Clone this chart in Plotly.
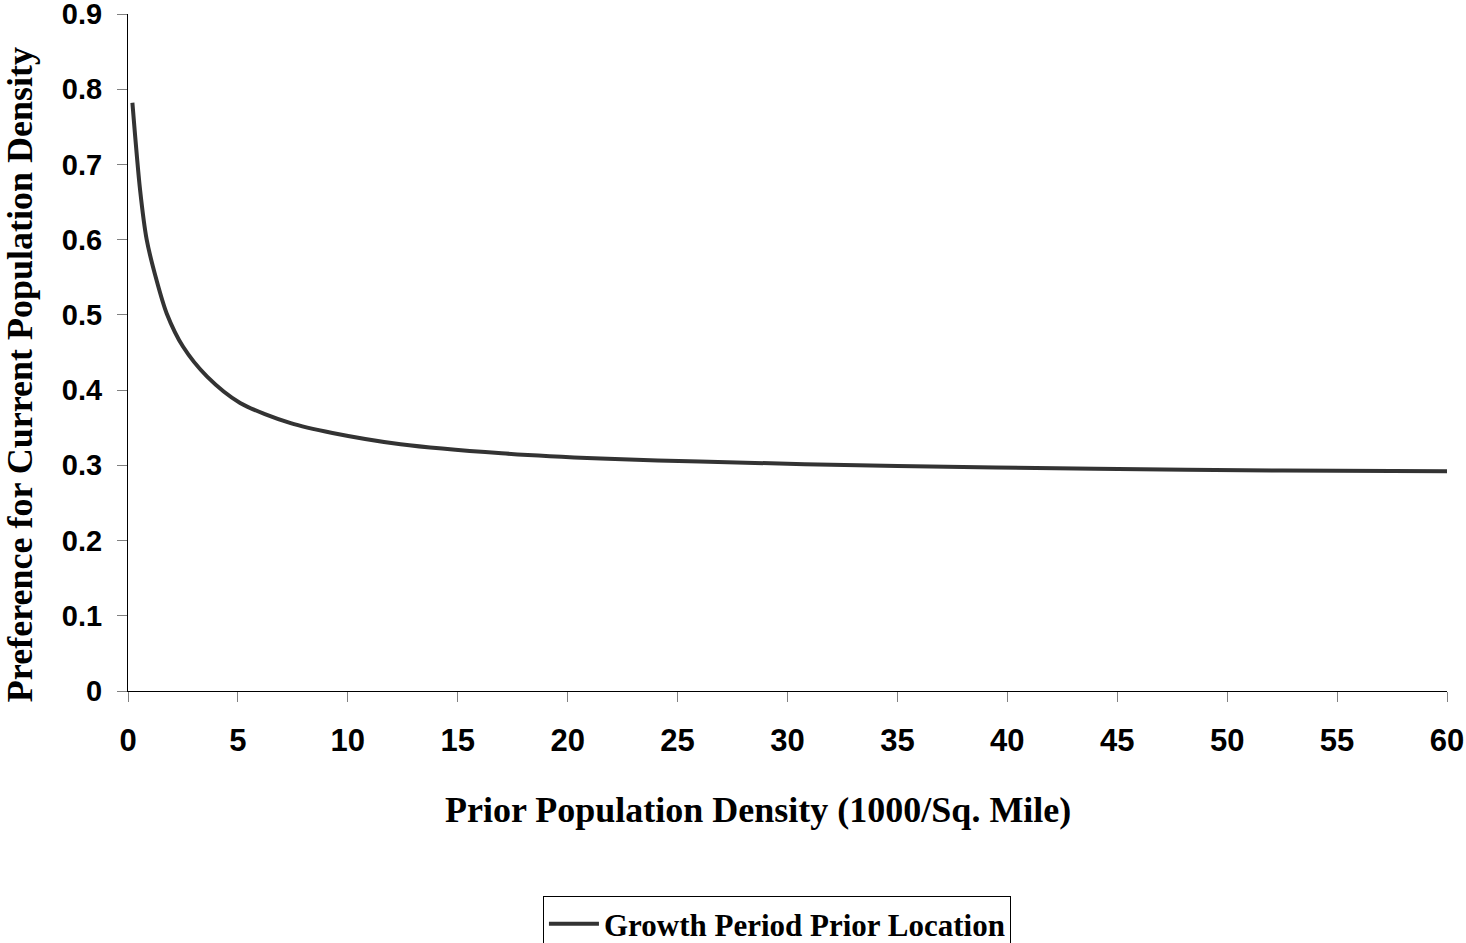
import plotly.graph_objects as go

density = [0.2, 0.55, 0.85, 1.3, 1.76, 2.5, 3.6, 5.1, 7.4, 9.3, 12.4, 17, 21.5, 26, 35, 44, 52.5, 60]
preference = [0.782, 0.666, 0.600, 0.546, 0.502, 0.458, 0.418, 0.383, 0.356, 0.343,
              0.328, 0.316, 0.309, 0.305, 0.299, 0.2955, 0.293, 0.292]
series_name = "Growth Period Prior Location"
x_ticks = [0, 5, 10, 15, 20, 25, 30, 35, 40, 45, 50, 55, 60]
y_ticks = [0, 0.1, 0.2, 0.3, 0.4, 0.5, 0.6, 0.7, 0.8, 0.9]
y_ticklabels = ["0", "0.1", "0.2", "0.3", "0.4", "0.5", "0.6", "0.7", "0.8", "0.9"]

fig = go.Figure()
fig.add_trace(go.Scatter(
    x=density, y=preference, mode="lines", name=series_name,
    line=dict(color="#333333", width=4, shape="spline", smoothing=0.8),
    showlegend=True,
))

sans = "Liberation Sans, Arial, sans-serif"
serif = "Liberation Serif, Times New Roman, serif"

fig.update_layout(
    width=1466, height=943,
    margin=dict(l=128, r=19, t=14, b=252, autoexpand=False),
    paper_bgcolor="white", plot_bgcolor="white",
    showlegend=True,
    legend=dict(
        x=0.492, y=-0.3028, xanchor="center", yanchor="top",
        bordercolor="black", borderwidth=1, bgcolor="white",
        font=dict(family=serif, size=31, color="black", weight="bold"),
        itemwidth=50,
    ),
    xaxis=dict(
        range=[0, 60], tickmode="array", tickvals=x_ticks,
        ticks="outside", ticklen=10, tickcolor="#808080", tickwidth=1,
        showline=True, linecolor="black", linewidth=1,
        showgrid=False, zeroline=False, automargin=False,
        ticklabeloverflow="allow", ticklabelstandoff=12,
        tickfont=dict(family=sans, size=31, color="black", weight="bold"),
    ),
    yaxis=dict(
        range=[0, 0.90001], tickmode="array", tickvals=y_ticks, ticktext=y_ticklabels,
        ticks="outside", ticklen=10, tickcolor="#808080", tickwidth=1,
        showline=True, linecolor="black", linewidth=1,
        showgrid=False, zeroline=False, automargin=False,
        ticklabeloverflow="allow", ticklabelstandoff=9,
        tickfont=dict(family=sans, size=29, color="black", weight="bold"),
    ),
    annotations=[
        dict(text="Prior Population Density (1000/Sq. Mile)", xref="paper", yref="paper",
             x=0.478, y=-0.176, xanchor="center", yanchor="middle", showarrow=False,
             font=dict(family=serif, size=36, color="black", weight="bold")),
        dict(text="Preference for Current Population Density", xref="paper", yref="paper",
             x=-0.0819, y=0.468, xanchor="center", yanchor="middle", showarrow=False,
             textangle=-90,
             font=dict(family=serif, size=36, color="black", weight="bold")),
    ],
)

fig.write_html("out.html", config={"displayModeBar": False},
               post_script="document.body.style.margin='0';")
